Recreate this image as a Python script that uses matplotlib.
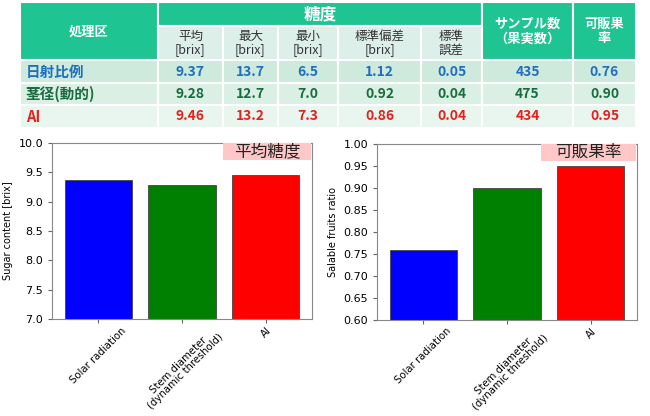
import matplotlib
matplotlib.use("Agg")
import matplotlib.pyplot as plt
import matplotlib.ticker as mticker
from matplotlib.patches import Rectangle

# ---------------- data ----------------
row_labels = ["日射比例", "茎径(動的)", "AI"]
sub_headers = ["平均\n[brix]", "最大\n[brix]", "最小\n[brix]", "標準偏差\n[brix]", "標準\n誤差"]
mean_brix = [9.37, 9.28, 9.46]
max_brix = [13.7, 12.7, 13.2]
min_brix = [6.5, 7.0, 7.3]
sd_brix = [1.12, 0.92, 0.86]
se_brix = [0.05, 0.04, 0.04]
n_samples = [435, 475, 434]
salable_ratio = [0.76, 0.90, 0.95]

categories = ["Solar radiation", "Stem diameter\n(dynamic threshold)", "AI"]
bar_colors = ["blue", "green", "red"]
row_text_colors = ["#1F6FC0", "#1B6B3F", "#E8201A"]

JP = ["Noto Sans CJK JP", "DejaVu Sans"]

fig = plt.figure(figsize=(6.5, 4.16), dpi=100)

# ---------------- table ----------------
tab = fig.add_axes([0, 0, 1, 1])
tab.set_xlim(0, 650)
tab.set_ylim(416, 0)
tab.axis("off")
tab.patch.set_alpha(0)

col_edges = [20, 158, 223, 278, 338, 421, 482, 573, 636]
row_edges = [2, 26, 60, 83, 105, 128]
head_c = "#1EC491"
sub_c = "#DCEFE8"
row_bg = ["#CDEADC", "#DBF0E5", "#E8F6EF"]
grid_c = "white"

def cell(x0, x1, y0, y1, fc):
    tab.add_patch(Rectangle((x0, y0), x1 - x0, y1 - y0, facecolor=fc,
                            edgecolor=grid_c, linewidth=1.5))

# header
cell(col_edges[0], col_edges[1], row_edges[0], row_edges[2], head_c)
tab.text((col_edges[0] + col_edges[1]) / 2, 32, "処理区", ha="center", va="center",
         color="white", fontsize=9.5, fontweight="bold", family=JP)
cell(col_edges[1], col_edges[6], row_edges[0], row_edges[1], head_c)
tab.text((col_edges[1] + col_edges[6]) / 2, row_edges[0] + 12, "糖度", ha="center",
         va="center", color="white", fontsize=12, fontweight="bold", family=JP)
for i, lab in enumerate(sub_headers):
    x0, x1 = col_edges[1 + i], col_edges[2 + i]
    cell(x0, x1, row_edges[1], row_edges[2], sub_c)
    tab.text((x0 + x1) / 2, (row_edges[1] + row_edges[2]) / 2, lab, ha="center",
             va="center", color="#333333", fontsize=9, family=JP, linespacing=1.05)
cell(col_edges[6], col_edges[7], row_edges[0], row_edges[2], head_c)
tab.text((col_edges[6] + col_edges[7]) / 2, 31, "サンプル数\n（果実数）", ha="center",
         va="center", color="white", fontsize=9.5, fontweight="bold", family=JP, linespacing=1.05)
cell(col_edges[7], col_edges[8], row_edges[0], row_edges[2], head_c)
tab.text((col_edges[7] + col_edges[8]) / 2, 31, "可販果\n率", ha="center",
         va="center", color="white", fontsize=9.5, fontweight="bold", family=JP, linespacing=1.05)

columns = [mean_brix, max_brix, min_brix, sd_brix, se_brix, n_samples, salable_ratio]
fmts = ["{:.2f}", "{:.1f}", "{:.1f}", "{:.2f}", "{:.2f}", "{:d}", "{:.2f}"]
for r in range(3):
    y0, y1 = row_edges[2 + r], row_edges[3 + r]
    ym = (y0 + y1) / 2
    cell(col_edges[0], col_edges[1], y0, y1, row_bg[r])
    tab.text(col_edges[0] + 6, ym, row_labels[r], ha="left", va="center",
             color=row_text_colors[r], fontsize=10.5, fontweight="bold", family=JP)
    for c in range(7):
        x0, x1 = col_edges[1 + c], col_edges[2 + c]
        cell(x0, x1, y0, y1, row_bg[r])
        tab.text((x0 + x1) / 2, ym, fmts[c].format(columns[c][r]), ha="center",
                 va="center", color=row_text_colors[r], fontsize=10, fontweight="bold",
                 family=JP)

# ---------------- bar charts ----------------
def bar_panel(rect, values, ylim, yticks, ylabel, tag, box_x0, fmt):
    ax = fig.add_axes(rect)
    x = range(len(categories))
    ax.bar(x, values, width=0.8, color=bar_colors, edgecolor="#444444", linewidth=0.6)
    ax.set_ylim(*ylim)
    ax.set_xlim(-0.55, 2.55)
    ax.set_yticks(yticks)
    ax.yaxis.set_major_formatter(mticker.FormatStrFormatter(fmt))
    ax.set_xticks(list(x))
    ax.set_xticklabels(categories, rotation=45, fontsize=7.3, linespacing=0.95)
    ax.tick_params(axis="y", labelsize=8, length=3, color="#666666")
    ax.tick_params(axis="x", length=3, color="#666666", pad=1.5)
    ax.set_ylabel(ylabel, fontsize=7)
    for s in ax.spines.values():
        s.set_color("#888888")
    ax.add_patch(Rectangle((box_x0, 0.903), 0.995 - box_x0, 0.097, transform=ax.transAxes,
                           facecolor="#FFC8C8", edgecolor="none", zorder=3))
    ax.text((box_x0 + 0.995) / 2, 0.951, tag, transform=ax.transAxes, ha="center",
            va="center", fontsize=12, family=JP, color="#222222", zorder=4)
    return ax

bar_panel([0.08, 0.233, 0.40, 0.423], mean_brix, (7.0, 10.0),
          [7.0, 7.5, 8.0, 8.5, 9.0, 9.5, 10.0], "Sugar content [brix]", "平均糖度",
          0.658, "%.1f")
bar_panel([0.58, 0.231, 0.40, 0.423], salable_ratio, (0.60, 1.00),
          [0.60, 0.65, 0.70, 0.75, 0.80, 0.85, 0.90, 0.95, 1.00],
          "Salable fruits ratio", "可販果率", 0.63, "%.2f")

fig.savefig("out.png", dpi=100)
